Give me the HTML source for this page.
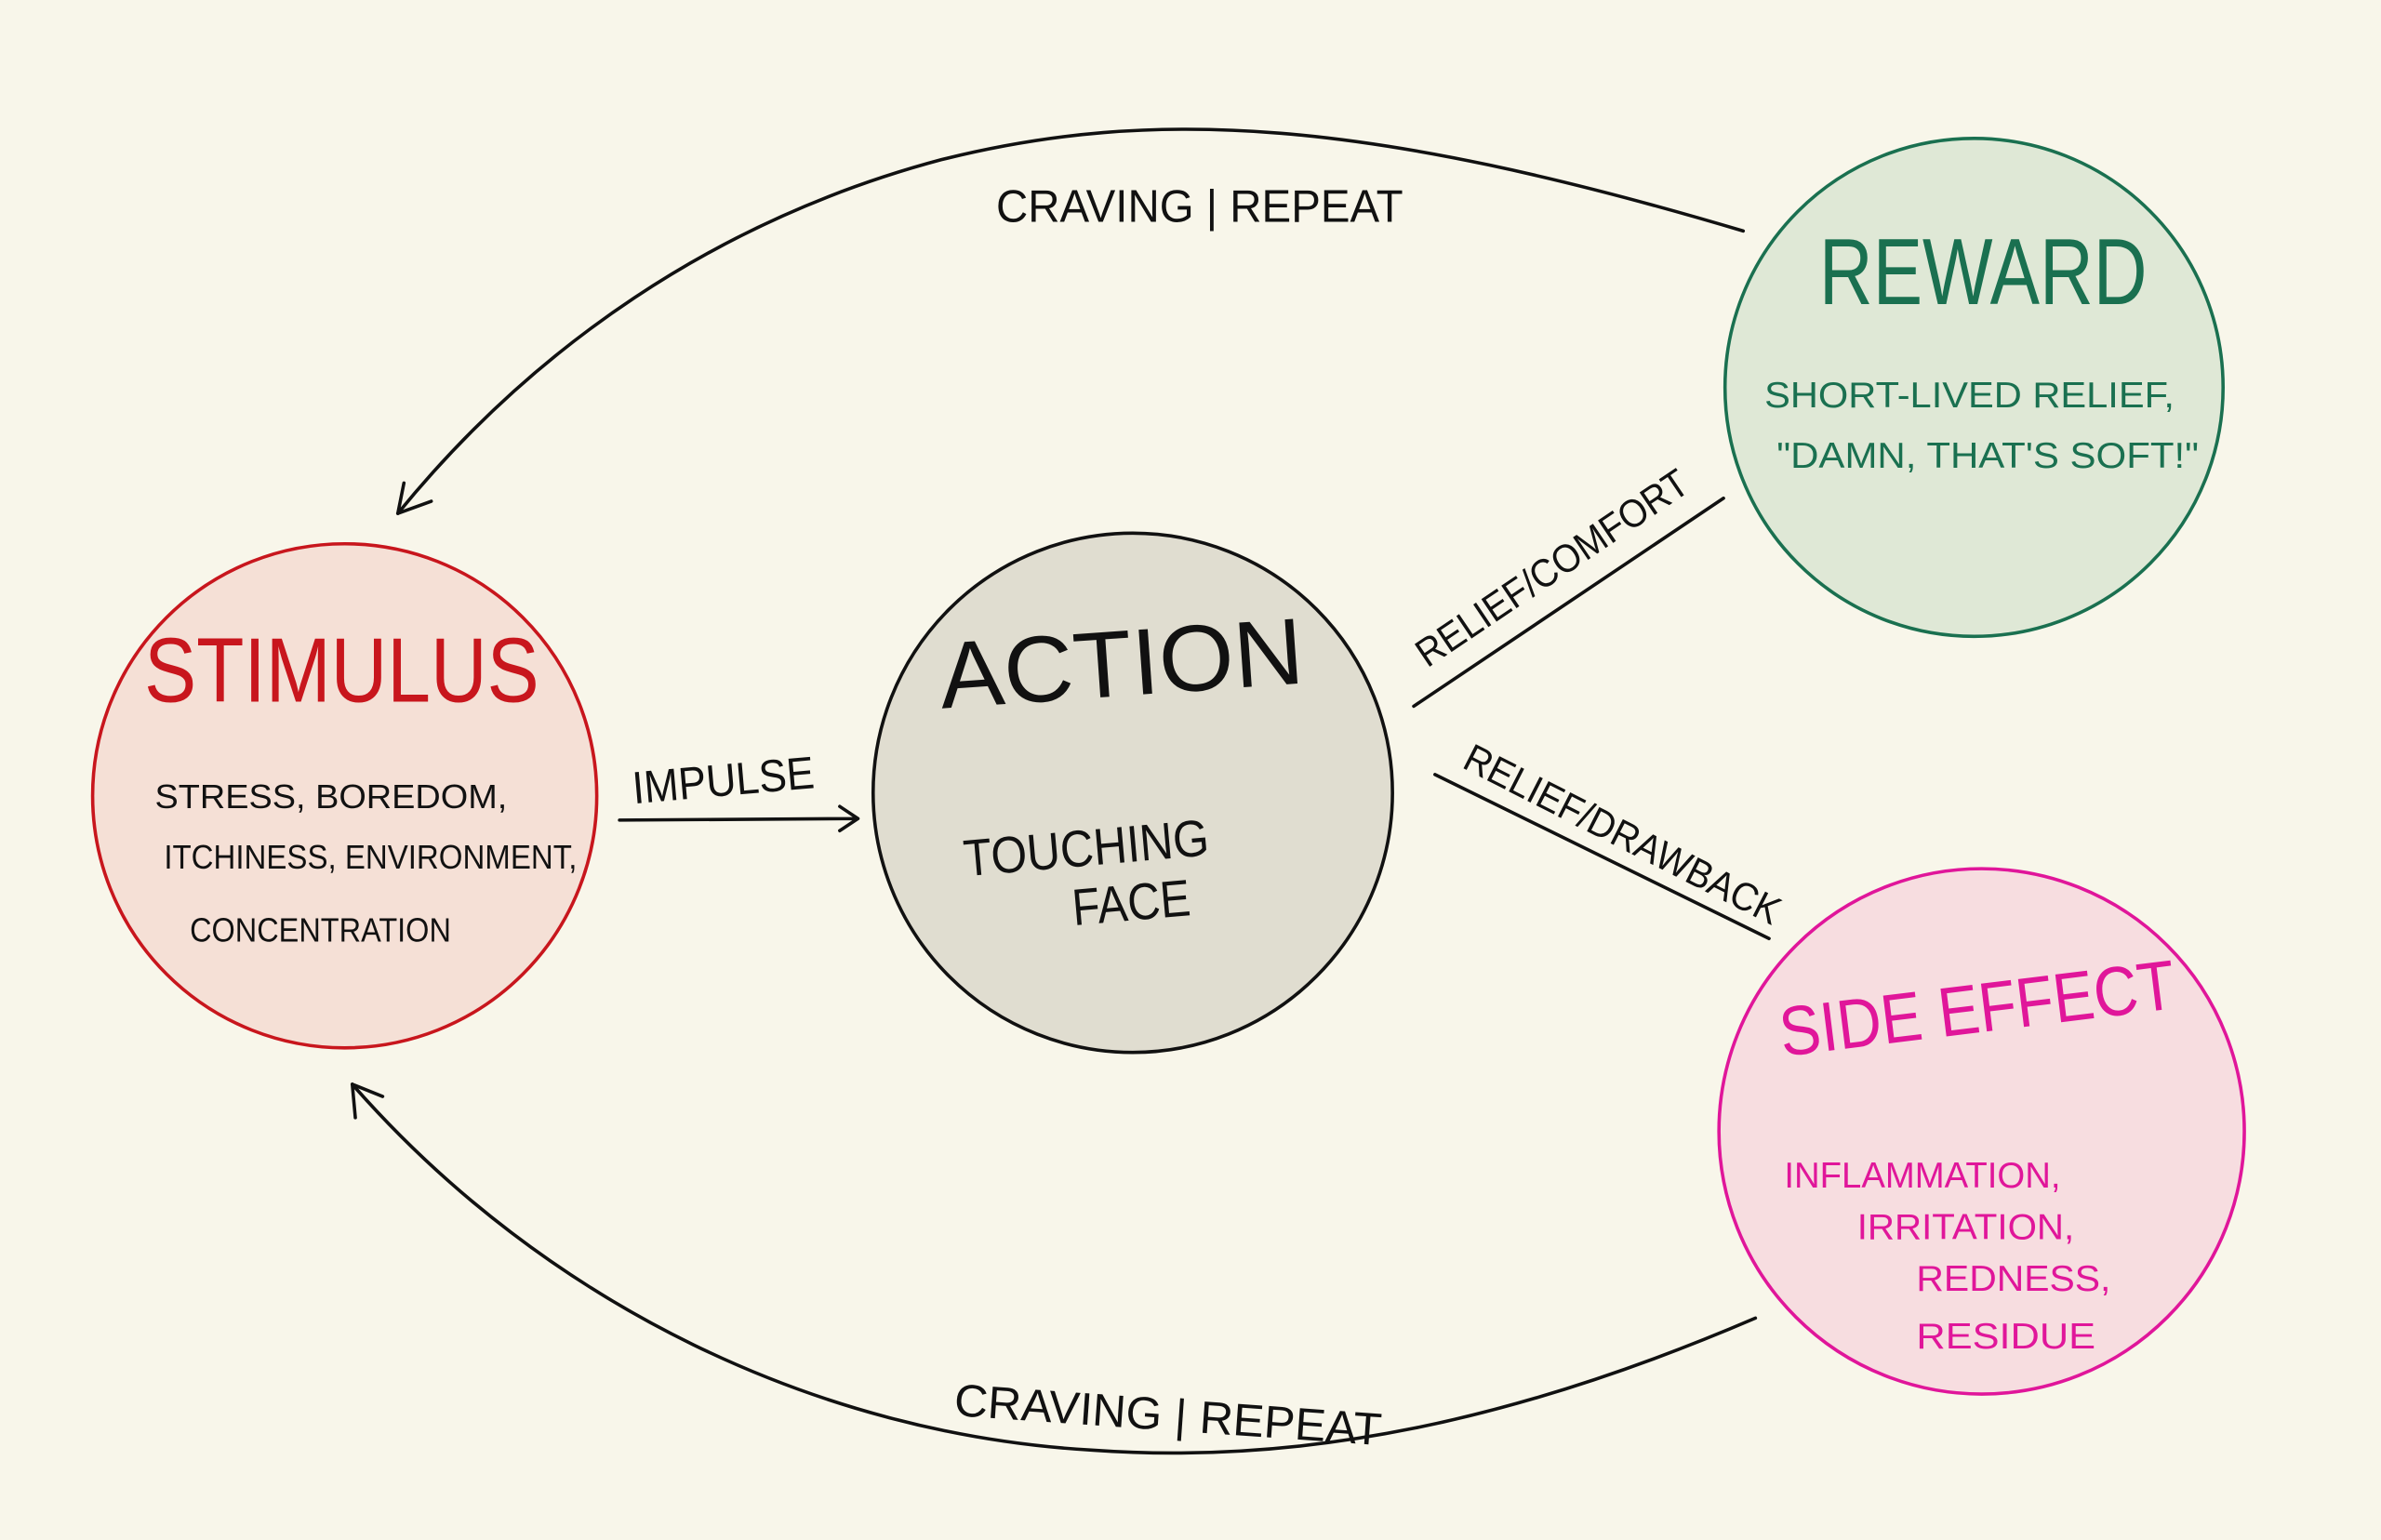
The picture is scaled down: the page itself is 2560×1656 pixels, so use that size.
<!DOCTYPE html>
<html><head><meta charset="utf-8"><style>
html,body{margin:0;padding:0;background:#f8f6ea;}
svg{display:block}
text{font-family:"Liberation Sans",sans-serif;}
</style></head><body>
<svg width="2560" height="1656" viewBox="0 0 1568 1014" xmlns="http://www.w3.org/2000/svg">
<rect width="1568" height="1014" fill="#f8f6ea"/>
<g fill="none" stroke="#111" stroke-width="2.2" stroke-linecap="round">
<path d="M1148 152 C900 78 760 70 620 105 C470 145 350 230 262 338"/>
<path d="M262 338 L266 318 M262 338 L284 330"/>
<path d="M1156 868 C1000 935 860 965 720 955 C540 945 360 860 232 714"/>
<path d="M232 714 L234 736 M232 714 L252 722"/>
<path d="M408 540 L565 539 M565 539 L553 531 M565 539 L553 547"/>
<path d="M931 465 L1135 328"/>
<path d="M945 510 L1165 618"/>
</g>
<circle cx="227" cy="524" r="166" fill="#f5e0d6" stroke="#c8161d" stroke-width="2.2"/>
<circle cx="746" cy="522" r="171" fill="#e0ddd0" stroke="#111" stroke-width="2.2"/>
<circle cx="1300" cy="255" r="164" fill="#dfe8d6" stroke="#1a7050" stroke-width="2.2"/>
<circle cx="1305" cy="745" r="173" fill="#f7dde0" stroke="#e0169a" stroke-width="2.2"/>
<g fill="#111" font-size="30">
<text x="656" y="146" textLength="268" lengthAdjust="spacingAndGlyphs">CRAVING | REPEAT</text>
<text x="628" y="942" textLength="282" lengthAdjust="spacingAndGlyphs" transform="rotate(4 770 935)">CRAVING | REPEAT</text>
<text x="416" y="524" textLength="120" lengthAdjust="spacingAndGlyphs" transform="rotate(-5 476 510)">IMPULSE</text>
<text x="940" y="440" textLength="210" lengthAdjust="spacingAndGlyphs" transform="rotate(-34 940 440)" font-size="26">RELIEF/COMFORT</text>
<text x="962" y="505" textLength="230" lengthAdjust="spacingAndGlyphs" transform="rotate(27 962 505)" font-size="26">RELIEF/DRAWBACK</text>
</g>
<text x="95" y="462" fill="#c8161d" font-size="60" textLength="260" lengthAdjust="spacingAndGlyphs" font-weight="300">STIMULUS</text>
<g fill="#111" font-size="22">
<text x="102" y="532" textLength="232" lengthAdjust="spacingAndGlyphs">STRESS, BOREDOM,</text>
<text x="108" y="572" textLength="272" lengthAdjust="spacingAndGlyphs">ITCHINESS, ENVIRONMENT,</text>
<text x="125" y="620" textLength="172" lengthAdjust="spacingAndGlyphs">CONCENTRATION</text>
</g>
<text x="618" y="458" fill="#111" font-size="62" textLength="240" lengthAdjust="spacingAndGlyphs" transform="rotate(-4 740 430)">ACTION</text>
<g fill="#111" font-size="34">
<text x="634" y="570" textLength="162" lengthAdjust="spacingAndGlyphs" transform="rotate(-5 715 555)">TOUCHING</text>
<text x="706" y="606" textLength="78" lengthAdjust="spacingAndGlyphs" transform="rotate(-5 745 595)">FACE</text>
</g>
<text x="1198" y="200" fill="#1a7050" font-size="62" textLength="216" lengthAdjust="spacingAndGlyphs">REWARD</text>
<g fill="#1a7050" font-size="24">
<text x="1162" y="268" textLength="270" lengthAdjust="spacingAndGlyphs">SHORT-LIVED RELIEF,</text>
<text x="1170" y="308" textLength="278" lengthAdjust="spacingAndGlyphs">"DAMN, THAT'S SOFT!"</text>
</g>
<text x="1170" y="680" fill="#e0169a" font-size="46" textLength="262" lengthAdjust="spacingAndGlyphs" transform="rotate(-7 1300 655)">SIDE EFFECT</text>
<g fill="#e0169a" font-size="24">
<text x="1175" y="782" textLength="182" lengthAdjust="spacingAndGlyphs">INFLAMMATION,</text>
<text x="1223" y="816" textLength="143" lengthAdjust="spacingAndGlyphs">IRRITATION,</text>
<text x="1262" y="850" textLength="128" lengthAdjust="spacingAndGlyphs">REDNESS,</text>
<text x="1262" y="888" textLength="118" lengthAdjust="spacingAndGlyphs">RESIDUE</text>
</g>
</svg>
</body></html>
